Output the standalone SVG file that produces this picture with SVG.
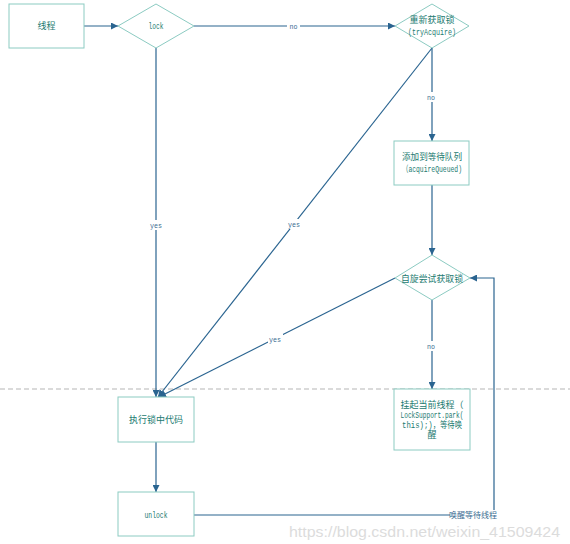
<svg xmlns="http://www.w3.org/2000/svg" width="570" height="544" viewBox="0 0 570 544">
<defs>
<marker id="arr" viewBox="0 0 10 10" refX="10" refY="5" markerWidth="7" markerHeight="7" orient="auto" markerUnits="userSpaceOnUse">
<path d="M0,0 L10,5 L0,10 z" fill="#2a6490"/>
</marker>
<style>
.node{fill:#fff;stroke:#8ccbc2;stroke-width:1}
.t{font-family:"Liberation Mono","Noto Sans CJK SC",monospace;font-size:9px;fill:#227a70;text-anchor:middle}
.c{fill:none;stroke:#2a6490;stroke-width:1.2}
.lb{font-family:"Liberation Mono","Noto Sans CJK SC",monospace;font-size:8px;fill:#3a6d92;text-anchor:middle}
.bg{fill:#fff}
</style>
</defs>
<rect width="570" height="544" fill="#fff"/>
<line x1="0" y1="389" x2="570" y2="389" stroke="#b5b5b5" stroke-width="1" stroke-dasharray="5,3"/>
<g id="connectors">
<path class="c" d="M84,26 L118,26" marker-end="url(#arr)"/>
<path class="c" d="M194,26 L395,26" marker-end="url(#arr)"/>
<path class="c" d="M432,48 L432,141" marker-end="url(#arr)"/>
<path class="c" d="M432,185 L432,255" marker-end="url(#arr)"/>
<path class="c" d="M432,300 L432,389" marker-end="url(#arr)"/>
<path class="c" d="M156,48 L156,397" marker-end="url(#arr)"/>
<path class="c" d="M432,48 L158,397" stroke-width="1" marker-end="url(#arr)"/>
<path class="c" d="M395,278 L159,397" stroke-width="1" marker-end="url(#arr)"/>
<path class="c" d="M156,442 L156,492" marker-end="url(#arr)"/>
<path class="c" d="M194,515 L494,515 L494,278 L470,278" marker-end="url(#arr)"/>
<rect class="bg" x="287" y="21" width="13" height="10"/>
<text class="lb" x="293.5" y="29" textLength="8" lengthAdjust="spacingAndGlyphs">no</text>
<rect class="bg" x="425" y="92" width="13" height="10"/>
<text class="lb" x="431" y="100" textLength="8" lengthAdjust="spacingAndGlyphs">no</text>
<rect class="bg" x="425" y="341" width="13" height="10"/>
<text class="lb" x="431" y="349" textLength="8" lengthAdjust="spacingAndGlyphs">no</text>
<rect class="bg" x="149" y="220" width="15" height="10"/>
<text class="lb" x="156" y="228" textLength="12" lengthAdjust="spacingAndGlyphs">yes</text>
<rect class="bg" x="287" y="219" width="15" height="10"/>
<text class="lb" x="294" y="227" textLength="12" lengthAdjust="spacingAndGlyphs">yes</text>
<rect class="bg" x="268" y="334" width="15" height="10"/>
<text class="lb" x="275" y="342" textLength="12" lengthAdjust="spacingAndGlyphs">yes</text>
<rect class="bg" x="450" y="510" width="48" height="11"/>
<text class="lb" x="473" y="518" font-size="8.5">唤醒等待线程</text>
</g>
<g id="n1"><rect class="node" x="9" y="4" width="75" height="44"/><text class="t" x="46.5" y="29">线程</text></g>
<g id="n2"><polygon class="node" points="156,4 194,26 156,48 118,26"/><text class="t" x="156" y="29" textLength="15" lengthAdjust="spacingAndGlyphs">lock</text></g>
<g id="n3"><polygon class="node" points="432,4 469,26 432,48 395,26"/><text class="t" x="432" y="23">重新获取锁</text><text class="t" x="432" y="35" textLength="48" lengthAdjust="spacingAndGlyphs">(tryAcquire)</text></g>
<g id="n4"><rect class="node" x="394" y="141" width="75" height="44"/><text class="t" x="432" y="160" textLength="60" lengthAdjust="spacingAndGlyphs">添加到等待队列</text><text class="t" x="432" y="172" textLength="60" lengthAdjust="spacingAndGlyphs">（acquireQueued)</text></g>
<g id="n5"><polygon class="node" points="432,255 470,278 432,300 395,278"/><text class="t" x="432" y="282" textLength="62" lengthAdjust="spacingAndGlyphs">自旋尝试获取锁</text></g>
<g id="n6"><rect class="node" x="394" y="389" width="76" height="61"/><text class="t" x="432" y="408" textLength="63" lengthAdjust="spacingAndGlyphs">挂起当前线程（</text><text class="t" x="432" y="418" textLength="63" lengthAdjust="spacingAndGlyphs">LockSupport.park(</text><text class="t" x="432" y="428" textLength="60" lengthAdjust="spacingAndGlyphs">this);)，等待唤</text><text class="t" x="432" y="438">醒</text></g>
<g id="n7"><rect class="node" x="118" y="397" width="76" height="45"/><text class="t" x="156" y="423">执行锁中代码</text></g>
<g id="n8"><rect class="node" x="118" y="492" width="76" height="44"/><text class="t" x="156" y="518" textLength="23" lengthAdjust="spacingAndGlyphs">unlock</text></g>
<text x="560" y="537" font-family="Liberation Sans, Arial, sans-serif" font-size="15" fill="#dcdcdc" text-anchor="end" textLength="271" lengthAdjust="spacingAndGlyphs">https://blog.csdn.net/weixin_41509424</text>
</svg>
